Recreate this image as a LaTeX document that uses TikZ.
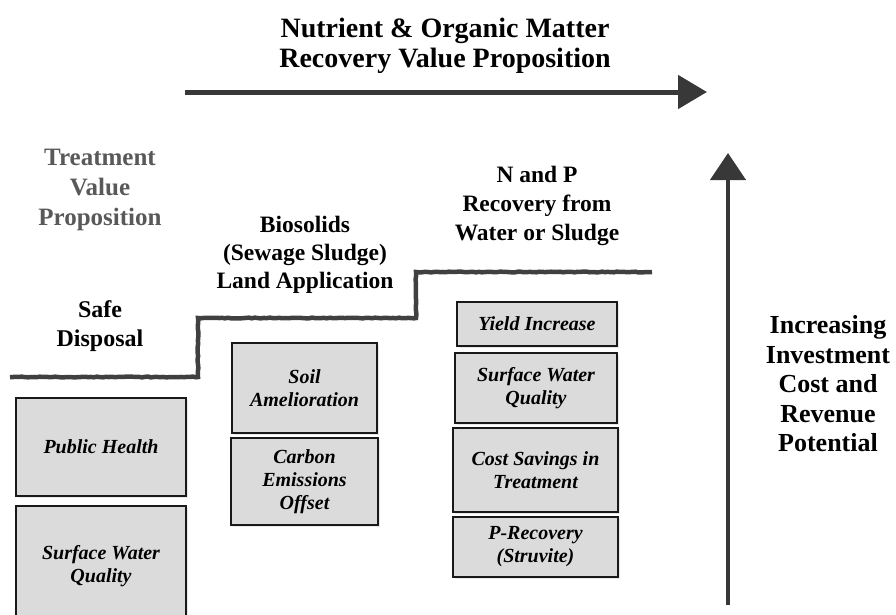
\documentclass[tikz,border=0pt]{standalone}
\usepackage{fontspec}
\setmainfont{Liberation Serif}
\usetikzlibrary{arrows.meta,decorations.pathmorphing,shadows}

\begin{document}
\begin{tikzpicture}[x=1pt,y=-1pt,
  benefit/.style={draw=black!90, line width=2.8pt, fill=gray!28,
    drop shadow={opacity=0.18, shadow xshift=2pt, shadow yshift=-2pt},
    font=\bfseries\itshape\fontsize{20}{23}\selectfont, align=center, inner sep=0pt},
  heading/.style={align=center, font=\bfseries\fontsize{24}{29}\selectfont},
  stepline/.style={draw=black!75, line width=4.5pt,
    decorate, decoration={random steps, segment length=3pt, amplitude=0.4pt}},
  bigarrow/.style={draw=black!78, fill=black!78, line width=5pt}
]
\useasboundingbox (0,0) rectangle (896,614);

% title and horizontal arrow
\node[heading, font=\bfseries\fontsize{28}{30}\selectfont] (title) at (445,46)
  {Nutrient \& Organic Matter\\Recovery Value Proposition};
\coordinate (hA) at (185,92);
\coordinate (hB) at (707,92);
\draw[bigarrow, -{Triangle[length=29pt,width=33pt]}] (hA) -- (hB);

% stage headings
\node[heading, text=black!65, font=\bfseries\fontsize{25}{30}\selectfont] (tvp) at (100,190) {Treatment\\Value\\Proposition};
\node[heading] (safe) at (100,326) {Safe\\Disposal};
\node[heading, font=\bfseries\fontsize{23.5}{28}\selectfont] (bio) at (305,255) {Biosolids\\(Sewage Sludge)\\Land Application};
\node[heading, font=\bfseries\fontsize{23.5}{29}\selectfont] (np) at (537,206) {N and P\\Recovery from\\Water or Sludge};

% staircase
\coordinate (s0) at (10,377);
\coordinate (s1) at (198,377);
\coordinate (s2) at (198,318);
\coordinate (s3) at (416,318);
\coordinate (s4) at (416,272);
\coordinate (s5) at (652,272);
\draw[stepline] (s0) -- (s1) -- (s2) -- (s3) -- (s4) -- (s5);

% benefit boxes
\node[benefit, minimum width=170pt, minimum height=98pt] (ph) at (101,447) {Public Health};
\node[benefit, minimum width=170pt, minimum height=120pt] (swa) at (101,566) {Surface Water\\Quality};
\node[benefit, minimum width=145pt, minimum height=90pt] (soil) at (304.5,388) {Soil\\Amelioration};
\node[benefit, minimum width=147pt, minimum height=87pt] (carb) at (304.5,481.5) {Carbon\\Emissions\\Offset};
\node[benefit, minimum width=160pt, minimum height=44pt] (yield) at (537,324) {Yield Increase};
\node[benefit, minimum width=162pt, minimum height=70pt] (swb) at (536,388) {Surface Water\\Quality};
\node[benefit, minimum width=165pt, minimum height=84pt] (cost) at (535.5,470) {Cost Savings in\\Treatment};
\node[benefit, minimum width=165pt, minimum height=60pt] (prec) at (535.5,547) {P-Recovery\\(Struvite)};

% vertical arrow and its label
\coordinate (vA) at (728,605);
\coordinate (vB) at (728,153);
\draw[bigarrow, line width=4.5pt, -{Triangle[length=27pt,width=35pt]}] (vA) -- (vB);
\node[heading, font=\bfseries\fontsize{26}{29.5}\selectfont] (inc) at (828,384) {Increasing\\Investment\\Cost and\\Revenue\\Potential};
\end{tikzpicture}
\end{document}
